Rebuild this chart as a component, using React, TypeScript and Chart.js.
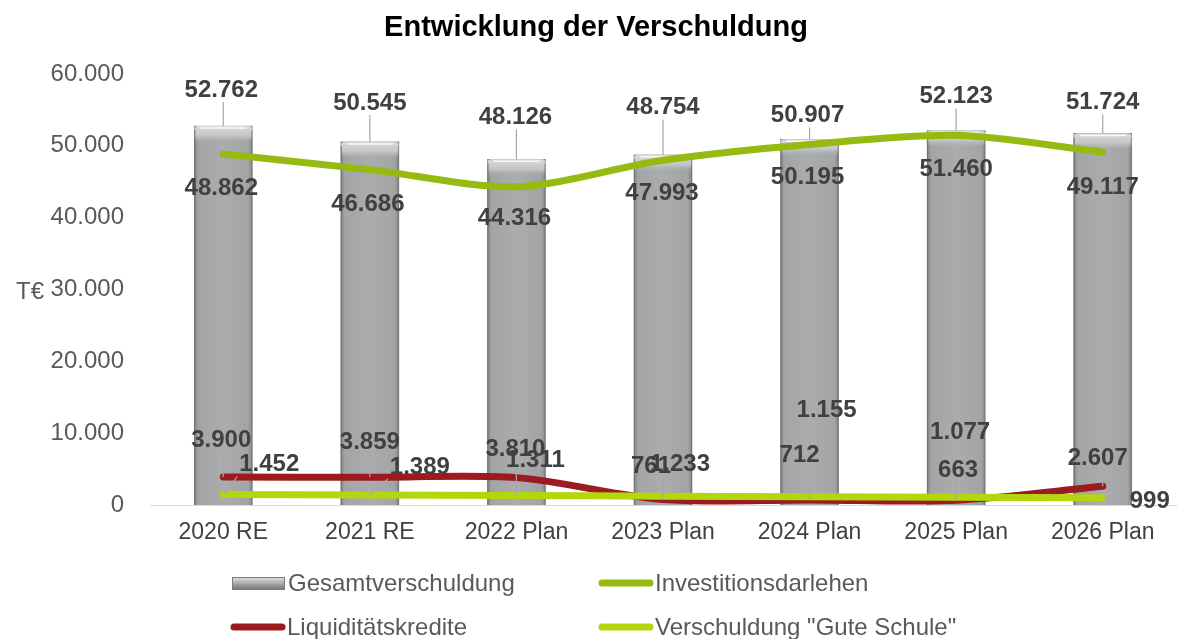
import React, { useEffect, useRef } from "react";
import { Chart, registerables } from "chart.js";

Chart.register(...registerables);

const categories = ["2020 RE", "2021 RE", "2022 Plan", "2023 Plan", "2024 Plan", "2025 Plan", "2026 Plan"];
const gesamtverschuldung = [52762, 50545, 48126, 48754, 50907, 52123, 51724];
const investitionsdarlehen = [48862, 46686, 44316, 47993, 50195, 51460, 49117];
const liquiditaetskredite = [3900, 3859, 3810, 761, 712, 663, 2607];
const guteSchule = [1452, 1389, 1311, 1233, 1155, 1077, 999];
const yTicks = [0, 10000, 20000, 30000, 40000, 50000, 60000];

// label placement offsets (layout only)
const gesamtLabelOffsets = [[-2, -36], [0, -39], [-1, -42], [0, -47], [-2, -24], [0, -34], [0, -31]];
const investLabelOffsets = [[-2, 34], [-2, 35], [-2, 32], [-1, 33], [-2, 33], [0, 34], [0, 35]];
const liquidLabelOffsets = [[-2, -37], [0, -35], [-1, -28], [-12, -33], [-10, -45], [2, -30], [-5, -28]];
const guteLabelOffsets = [[46, -30], [50, -28], [19, -35], [17, -32], [17, -86], [4, -65], [47, 4]];

const FONT = '"Liberation Sans", Arial, sans-serif';
const fmt = (v: number) => String(v).replace(/\B(?=(\d{3})+(?!\d))/g, ".");

const COLORS = {
  invest: "#97ba10",
  liquid: "#9b1b20",
  gute: "#b3d70d",
};

function barGradient(ctx: CanvasRenderingContext2D, x: number, w: number) {
  const g = ctx.createLinearGradient(x - w / 2, 0, x + w / 2, 0);
  g.addColorStop(0, "#858689");
  g.addColorStop(0.07, "#a3a4a6");
  g.addColorStop(0.5, "#abacae");
  g.addColorStop(0.93, "#a3a4a6");
  g.addColorStop(1, "#858689");
  return g;
}

function drawBevel(ctx: CanvasRenderingContext2D, x: number, top: number, w: number) {
  const l = x - w / 2;
  const h = 16;
  const g = ctx.createLinearGradient(0, top, 0, top + h);
  g.addColorStop(0, "#d9dadc");
  g.addColorStop(0.6, "#c4c5c7");
  g.addColorStop(1, "rgba(180,181,183,0)");
  ctx.save();
  ctx.fillStyle = g;
  ctx.beginPath();
  ctx.moveTo(l + 4, top);
  ctx.lineTo(l + w - 4, top);
  ctx.quadraticCurveTo(l + w, top, l + w, top + 4);
  ctx.lineTo(l + w, top + h);
  ctx.lineTo(l, top + h);
  ctx.lineTo(l, top + 4);
  ctx.quadraticCurveTo(l, top, l + 4, top);
  ctx.closePath();
  ctx.fill();
  ctx.strokeStyle = "rgba(255,255,255,0.85)";
  ctx.lineWidth = 1.5;
  ctx.beginPath();
  ctx.moveTo(l + 6, top + 2);
  ctx.lineTo(l + w - 6, top + 2);
  ctx.stroke();
  ctx.strokeStyle = "rgba(120,121,124,0.6)";
  ctx.lineWidth = 1;
  ctx.beginPath();
  ctx.moveTo(l + 0.5, top + 4);
  ctx.lineTo(l + 0.5, top + h + 400);
  ctx.stroke();
  ctx.restore();
}

const bevelPlugin = {
  id: "bevel",
  afterDatasetDraw(chart: any, args: any) {
    if (args.index !== 0) return;
    const ctx = chart.ctx;
    const meta = chart.getDatasetMeta(0);
    ctx.save();
    ctx.beginPath();
    ctx.rect(chart.chartArea.left, chart.chartArea.top, chart.chartArea.width, chart.chartArea.height);
    ctx.clip();
    meta.data.forEach((el: any) => {
      const base = el.base;
      const top = el.y;
      const w = el.width;
      const l = el.x - w / 2;
      drawBevel(ctx, el.x, top, w);
      ctx.strokeStyle = "rgba(110,111,114,0.7)";
      ctx.lineWidth = 1;
      ctx.beginPath();
      ctx.moveTo(l + 0.5, top + 4);
      ctx.lineTo(l + 0.5, base);
      ctx.moveTo(l + w - 0.5, top + 4);
      ctx.lineTo(l + w - 0.5, base);
      ctx.stroke();
    });
    ctx.restore();
  },
};

const labelsPlugin = {
  id: "customLabels",
  afterDraw(chart: any) {
    const ctx = chart.ctx;
    const sets: Array<[number, number[], number[][], boolean]> = [
      [0, gesamtverschuldung, gesamtLabelOffsets, true],
      [1, investitionsdarlehen, investLabelOffsets, false],
      [2, liquiditaetskredite, liquidLabelOffsets, true],
      [3, guteSchule, guteLabelOffsets, true],
    ];
    ctx.save();
    ctx.font = `bold 24px ${FONT}`;
    ctx.textAlign = "center";
    ctx.textBaseline = "middle";
    // leaders
    sets.forEach(([di, values, offs, leader]) => {
      if (!leader) return;
      const meta = chart.getDatasetMeta(di);
      meta.data.forEach((el: any, j: number) => {
        const px = el.x;
        const py = el.y;
        const lx = px + offs[j][0];
        const ly = py + offs[j][1];
        const tw = ctx.measureText(fmt(values[j])).width;
        const hw = tw / 2 + 2;
        const hh = 12;
        const tx = Math.min(Math.max(px, lx - hw), lx + hw);
        const ty = Math.min(Math.max(py, ly - hh), ly + hh);
        const d = Math.hypot(tx - px, ty - py);
        if (d > 6) {
          ctx.strokeStyle = "#a6a6a6";
          ctx.lineWidth = 1.2;
          ctx.beginPath();
          ctx.moveTo(px, py);
          ctx.lineTo(tx, ty);
          ctx.stroke();
        }
      });
    });
    sets.forEach(([di, values, offs]) => {
      const meta = chart.getDatasetMeta(di);
      meta.data.forEach((el: any, j: number) => {
        ctx.fillStyle = "#404040";
        ctx.fillText(fmt(values[j]), el.x + offs[j][0], el.y + offs[j][1]);
      });
    });

    // title
    ctx.fillStyle = "#000000";
    ctx.font = `bold 29px ${FONT}`;
    ctx.fillText("Entwicklung der Verschuldung", 596, 28);

    // y axis title
    ctx.fillStyle = "#595959";
    ctx.font = `24px ${FONT}`;
    ctx.textAlign = "left";
    ctx.fillText("T€", 16, 292);

    // legend
    const items: Array<[string, string, number, number]> = [
      ["bar", "Gesamtverschuldung", 232, 583],
      [COLORS.invest, "Investitionsdarlehen", 599, 583],
      [COLORS.liquid, "Liquiditätskredite", 231, 627],
      [COLORS.gute, "Verschuldung \"Gute Schule\"", 599, 627],
    ];
    items.forEach(([c, text, x, y]) => {
      if (c === "bar") {
        const w = 53;
        const g = ctx.createLinearGradient(0, y - 6, 0, y + 7);
        g.addColorStop(0, "#e4e5e7");
        g.addColorStop(0.35, "#b9babc");
        g.addColorStop(1, "#6f7073");
        ctx.fillStyle = g;
        ctx.fillRect(x, y - 6, w, 13);
        ctx.strokeStyle = "#7a7b7e";
        ctx.lineWidth = 1;
        ctx.strokeRect(x + 0.5, y - 5.5, w - 1, 12);
      } else {
        ctx.strokeStyle = c;
        ctx.lineWidth = 7;
        ctx.lineCap = "round";
        ctx.beginPath();
        ctx.moveTo(x + 3, y);
        ctx.lineTo(x + 51, y);
        ctx.stroke();
      }
      ctx.fillStyle = "#595959";
      ctx.font = `24px ${FONT}`;
      ctx.textAlign = "left";
      ctx.textBaseline = "middle";
      ctx.fillText(text, x + 56, y + 1);
    });
    ctx.restore();
  },
};

export default function App() {
  const ref = useRef<HTMLCanvasElement | null>(null);
  useEffect(() => {
    document.body.style.margin = "0";
    const canvas = ref.current!;
    const chart = new Chart(canvas, {
      type: "bar",
      data: {
        labels: categories,
        datasets: [
          {
            type: "bar",
            label: "Gesamtverschuldung",
            data: gesamtverschuldung,
            order: 4,
            barThickness: 58,
            backgroundColor: (c: any) => {
              const chart = c.chart;
              if (!chart.chartArea || !chart.scales.x) return "#a6a7a9";
              const x = chart.scales.x.getPixelForValue(c.dataIndex);
              return barGradient(chart.ctx, x, 58);
            },
            borderWidth: 0,
          },
          {
            type: "line",
            label: "Investitionsdarlehen",
            data: investitionsdarlehen,
            order: 3,
            borderColor: COLORS.invest,
            borderWidth: 7,
            borderCapStyle: "round",
            pointRadius: 0,
            tension: 0.3,
            fill: false,
          },
          {
            type: "line",
            label: "Liquiditätskredite",
            data: liquiditaetskredite,
            order: 2,
            borderColor: COLORS.liquid,
            borderWidth: 7,
            borderCapStyle: "round",
            pointRadius: 0,
            tension: 0.3,
            fill: false,
          },
          {
            type: "line",
            label: "Verschuldung \"Gute Schule\"",
            data: guteSchule,
            order: 1,
            borderColor: COLORS.gute,
            borderWidth: 7,
            borderCapStyle: "round",
            pointRadius: 0,
            tension: 0.3,
            fill: false,
          },
        ],
      },
      options: {
        responsive: false,
        animation: false,
        layout: { padding: { left: 0, right: 3, top: 74, bottom: 84 } },
        plugins: {
          legend: { display: false },
          title: { display: false },
          tooltip: { enabled: false },
        },
        scales: {
          x: {
            grid: { display: false, drawTicks: false },
            border: { display: true, color: "#d9d9d9", width: 1 },
            ticks: {
              color: "#404040",
              font: { family: FONT, size: 23 },
              padding: 14,
              maxRotation: 0,
              autoSkip: false,
            },
            afterFit: (s: any) => {
              s.height = 50;
            },
          },
          y: {
            min: 0,
            max: 60000,
            grid: { display: false, drawTicks: false },
            border: { display: false },
            afterBuildTicks: (s: any) => {
              s.ticks = yTicks.map((v) => ({ value: v }));
            },
            ticks: {
              color: "#595959",
              font: { family: FONT, size: 24 },
              padding: 26,
              callback: (v: any) => fmt(Number(v)),
            },
            afterFit: (s: any) => {
              s.width = 150;
            },
          },
        },
      },
      plugins: [bevelPlugin, labelsPlugin],
    } as any);
    return () => chart.destroy();
  }, []);
  return (
    <div style={{ position: "relative", width: 1179, height: 639 }}>
      <canvas ref={ref} width={1179} height={639} style={{ display: "block", width: 1179, height: 639 }} />
    </div>
  );
}
